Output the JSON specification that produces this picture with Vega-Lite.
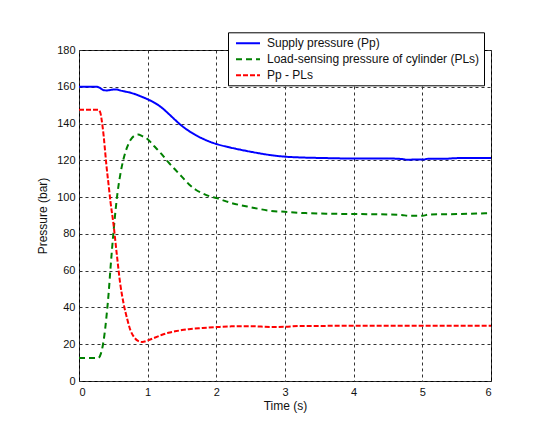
{
  "$schema": "https://vega.github.io/schema/vega-lite/v6.json",
  "autosize": "none",
  "width": 412,
  "height": 331,
  "padding": {"left": 79, "top": 50, "right": 64, "bottom": 53},
  "background": "white",
  "config": {
    "font": "Liberation Sans",
    "view": {"stroke": "black", "strokeWidth": 1},
    "axis": {
      "labelFont": "Liberation Sans",
      "labelFontSize": 11,
      "labelColor": "#111",
      "titleFont": "Liberation Sans",
      "titleFontSize": 12,
      "titleFontWeight": "normal",
      "titleColor": "#111",
      "grid": true,
      "gridColor": "#333",
      "gridDash": [3, 3],
      "gridWidth": 1,
      "domain": false,
      "ticks": false
    },
    "legend": {
      "labelFont": "Liberation Sans",
      "labelFontSize": 12,
      "labelColor": "#111",
      "labelLimit": 0
    }
  },
  "data": {
    "values": [
      {"t": 0, "p": 160, "series": "Supply pressure (Pp)"},
      {"t": 0.25, "p": 160, "series": "Supply pressure (Pp)"},
      {"t": 0.3, "p": 159.5, "series": "Supply pressure (Pp)"},
      {"t": 0.35, "p": 158.3, "series": "Supply pressure (Pp)"},
      {"t": 0.4, "p": 158, "series": "Supply pressure (Pp)"},
      {"t": 0.45, "p": 158.2, "series": "Supply pressure (Pp)"},
      {"t": 0.5, "p": 158.5, "series": "Supply pressure (Pp)"},
      {"t": 0.55, "p": 158.5, "series": "Supply pressure (Pp)"},
      {"t": 0.6, "p": 158, "series": "Supply pressure (Pp)"},
      {"t": 0.7, "p": 157.2, "series": "Supply pressure (Pp)"},
      {"t": 0.8, "p": 156.2, "series": "Supply pressure (Pp)"},
      {"t": 0.9, "p": 154.8, "series": "Supply pressure (Pp)"},
      {"t": 1.0, "p": 153.2, "series": "Supply pressure (Pp)"},
      {"t": 1.1, "p": 151.3, "series": "Supply pressure (Pp)"},
      {"t": 1.2, "p": 148.8, "series": "Supply pressure (Pp)"},
      {"t": 1.3, "p": 145.5, "series": "Supply pressure (Pp)"},
      {"t": 1.4, "p": 142, "series": "Supply pressure (Pp)"},
      {"t": 1.5, "p": 138.7, "series": "Supply pressure (Pp)"},
      {"t": 1.6, "p": 136, "series": "Supply pressure (Pp)"},
      {"t": 1.7, "p": 133.7, "series": "Supply pressure (Pp)"},
      {"t": 1.8, "p": 131.8, "series": "Supply pressure (Pp)"},
      {"t": 1.9, "p": 130.2, "series": "Supply pressure (Pp)"},
      {"t": 2.0, "p": 128.9, "series": "Supply pressure (Pp)"},
      {"t": 2.2, "p": 127, "series": "Supply pressure (Pp)"},
      {"t": 2.4, "p": 125.4, "series": "Supply pressure (Pp)"},
      {"t": 2.6, "p": 124, "series": "Supply pressure (Pp)"},
      {"t": 2.8, "p": 122.8, "series": "Supply pressure (Pp)"},
      {"t": 3.0, "p": 122, "series": "Supply pressure (Pp)"},
      {"t": 3.2, "p": 121.6, "series": "Supply pressure (Pp)"},
      {"t": 3.5, "p": 121.3, "series": "Supply pressure (Pp)"},
      {"t": 4.0, "p": 121, "series": "Supply pressure (Pp)"},
      {"t": 4.5, "p": 121, "series": "Supply pressure (Pp)"},
      {"t": 4.7, "p": 120.7, "series": "Supply pressure (Pp)"},
      {"t": 4.8, "p": 120.3, "series": "Supply pressure (Pp)"},
      {"t": 4.9, "p": 120.5, "series": "Supply pressure (Pp)"},
      {"t": 5.0, "p": 120.4, "series": "Supply pressure (Pp)"},
      {"t": 5.1, "p": 120.9, "series": "Supply pressure (Pp)"},
      {"t": 5.3, "p": 120.8, "series": "Supply pressure (Pp)"},
      {"t": 5.5, "p": 121.2, "series": "Supply pressure (Pp)"},
      {"t": 6.0, "p": 121.3, "series": "Supply pressure (Pp)"},

      {"t": 0, "p": 12.5, "series": "Load-sensing pressure of cylinder (PLs)"},
      {"t": 0.28, "p": 12.5, "series": "Load-sensing pressure of cylinder (PLs)"},
      {"t": 0.32, "p": 15, "series": "Load-sensing pressure of cylinder (PLs)"},
      {"t": 0.35, "p": 20, "series": "Load-sensing pressure of cylinder (PLs)"},
      {"t": 0.38, "p": 28, "series": "Load-sensing pressure of cylinder (PLs)"},
      {"t": 0.4, "p": 35, "series": "Load-sensing pressure of cylinder (PLs)"},
      {"t": 0.43, "p": 47, "series": "Load-sensing pressure of cylinder (PLs)"},
      {"t": 0.46, "p": 62, "series": "Load-sensing pressure of cylinder (PLs)"},
      {"t": 0.5, "p": 80, "series": "Load-sensing pressure of cylinder (PLs)"},
      {"t": 0.53, "p": 92, "series": "Load-sensing pressure of cylinder (PLs)"},
      {"t": 0.56, "p": 102, "series": "Load-sensing pressure of cylinder (PLs)"},
      {"t": 0.6, "p": 112, "series": "Load-sensing pressure of cylinder (PLs)"},
      {"t": 0.65, "p": 121, "series": "Load-sensing pressure of cylinder (PLs)"},
      {"t": 0.7, "p": 127, "series": "Load-sensing pressure of cylinder (PLs)"},
      {"t": 0.75, "p": 131, "series": "Load-sensing pressure of cylinder (PLs)"},
      {"t": 0.8, "p": 133.2, "series": "Load-sensing pressure of cylinder (PLs)"},
      {"t": 0.86, "p": 134, "series": "Load-sensing pressure of cylinder (PLs)"},
      {"t": 0.92, "p": 133.2, "series": "Load-sensing pressure of cylinder (PLs)"},
      {"t": 1.0, "p": 131.5, "series": "Load-sensing pressure of cylinder (PLs)"},
      {"t": 1.1, "p": 127.5, "series": "Load-sensing pressure of cylinder (PLs)"},
      {"t": 1.2, "p": 123.5, "series": "Load-sensing pressure of cylinder (PLs)"},
      {"t": 1.3, "p": 119, "series": "Load-sensing pressure of cylinder (PLs)"},
      {"t": 1.4, "p": 115, "series": "Load-sensing pressure of cylinder (PLs)"},
      {"t": 1.5, "p": 111, "series": "Load-sensing pressure of cylinder (PLs)"},
      {"t": 1.6, "p": 107, "series": "Load-sensing pressure of cylinder (PLs)"},
      {"t": 1.7, "p": 104, "series": "Load-sensing pressure of cylinder (PLs)"},
      {"t": 1.8, "p": 102, "series": "Load-sensing pressure of cylinder (PLs)"},
      {"t": 1.9, "p": 100.5, "series": "Load-sensing pressure of cylinder (PLs)"},
      {"t": 2.0, "p": 99.5, "series": "Load-sensing pressure of cylinder (PLs)"},
      {"t": 2.2, "p": 97, "series": "Load-sensing pressure of cylinder (PLs)"},
      {"t": 2.5, "p": 94.5, "series": "Load-sensing pressure of cylinder (PLs)"},
      {"t": 2.8, "p": 92.5, "series": "Load-sensing pressure of cylinder (PLs)"},
      {"t": 3.0, "p": 92, "series": "Load-sensing pressure of cylinder (PLs)"},
      {"t": 3.3, "p": 91.3, "series": "Load-sensing pressure of cylinder (PLs)"},
      {"t": 3.6, "p": 91, "series": "Load-sensing pressure of cylinder (PLs)"},
      {"t": 4.0, "p": 90.8, "series": "Load-sensing pressure of cylinder (PLs)"},
      {"t": 4.5, "p": 90.6, "series": "Load-sensing pressure of cylinder (PLs)"},
      {"t": 4.7, "p": 90.3, "series": "Load-sensing pressure of cylinder (PLs)"},
      {"t": 4.8, "p": 89.8, "series": "Load-sensing pressure of cylinder (PLs)"},
      {"t": 5.0, "p": 89.9, "series": "Load-sensing pressure of cylinder (PLs)"},
      {"t": 5.1, "p": 90.5, "series": "Load-sensing pressure of cylinder (PLs)"},
      {"t": 5.5, "p": 90.8, "series": "Load-sensing pressure of cylinder (PLs)"},
      {"t": 6.0, "p": 91.3, "series": "Load-sensing pressure of cylinder (PLs)"},

      {"t": 0, "p": 147.5, "series": "Pp - PLs"},
      {"t": 0.28, "p": 147.5, "series": "Pp - PLs"},
      {"t": 0.31, "p": 146, "series": "Pp - PLs"},
      {"t": 0.33, "p": 142, "series": "Pp - PLs"},
      {"t": 0.36, "p": 133, "series": "Pp - PLs"},
      {"t": 0.38, "p": 125, "series": "Pp - PLs"},
      {"t": 0.4, "p": 117, "series": "Pp - PLs"},
      {"t": 0.43, "p": 107, "series": "Pp - PLs"},
      {"t": 0.46, "p": 97, "series": "Pp - PLs"},
      {"t": 0.5, "p": 86, "series": "Pp - PLs"},
      {"t": 0.55, "p": 69, "series": "Pp - PLs"},
      {"t": 0.6, "p": 53, "series": "Pp - PLs"},
      {"t": 0.65, "p": 42, "series": "Pp - PLs"},
      {"t": 0.7, "p": 34, "series": "Pp - PLs"},
      {"t": 0.75, "p": 27.5, "series": "Pp - PLs"},
      {"t": 0.8, "p": 24, "series": "Pp - PLs"},
      {"t": 0.86, "p": 21.8, "series": "Pp - PLs"},
      {"t": 0.92, "p": 21.2, "series": "Pp - PLs"},
      {"t": 1.0, "p": 22, "series": "Pp - PLs"},
      {"t": 1.1, "p": 23.5, "series": "Pp - PLs"},
      {"t": 1.2, "p": 25, "series": "Pp - PLs"},
      {"t": 1.3, "p": 26.2, "series": "Pp - PLs"},
      {"t": 1.4, "p": 27, "series": "Pp - PLs"},
      {"t": 1.5, "p": 27.7, "series": "Pp - PLs"},
      {"t": 1.6, "p": 28.2, "series": "Pp - PLs"},
      {"t": 1.8, "p": 28.8, "series": "Pp - PLs"},
      {"t": 2.0, "p": 29.3, "series": "Pp - PLs"},
      {"t": 2.2, "p": 29.7, "series": "Pp - PLs"},
      {"t": 2.5, "p": 29.8, "series": "Pp - PLs"},
      {"t": 2.8, "p": 29.4, "series": "Pp - PLs"},
      {"t": 3.0, "p": 29.5, "series": "Pp - PLs"},
      {"t": 3.2, "p": 29.9, "series": "Pp - PLs"},
      {"t": 4.0, "p": 30, "series": "Pp - PLs"},
      {"t": 6.0, "p": 30, "series": "Pp - PLs"}
    ]
  },
  "mark": {"type": "line", "strokeWidth": 2, "interpolate": "monotone"},
  "encoding": {
    "x": {
      "field": "t",
      "type": "quantitative",
      "scale": {"domain": [0, 6], "nice": false, "zero": false},
      "axis": {"values": [0, 1, 2, 3, 4, 5, 6], "title": "Time (s)", "labelPadding": 5, "titlePadding": 3}
    },
    "y": {
      "field": "p",
      "type": "quantitative",
      "scale": {"domain": [0, 180], "nice": false},
      "axis": {"values": [0, 20, 40, 60, 80, 100, 120, 140, 160, 180], "title": "Pressure (bar)", "labelPadding": 4, "titlePadding": 7}
    },
    "color": {
      "field": "series",
      "type": "nominal",
      "sort": null,
      "scale": {
        "domain": ["Supply pressure (Pp)", "Load-sensing pressure of cylinder (PLs)", "Pp - PLs"],
        "range": ["#0000ff", "#008000", "#ff0000"]
      },
      "legend": {
        "title": null,
        "orient": "none",
        "legendX": 149,
        "legendY": -17.7,
        "strokeColor": "black",
        "fillColor": "white",
        "padding": 4,
        "rowPadding": 3,
        "symbolType": "M-2,0L2,0",
        "symbolSize": 144,
        "symbolStrokeWidth": 2,
        "symbolOffset": 9,
        "labelOffset": 12
      }
    },
    "strokeDash": {
      "field": "series",
      "type": "nominal",
      "sort": null,
      "scale": {
        "domain": ["Supply pressure (Pp)", "Load-sensing pressure of cylinder (PLs)", "Pp - PLs"],
        "range": [[1, 0], [6, 4], [5, 2]]
      },
      "legend": null
    }
  }
}
